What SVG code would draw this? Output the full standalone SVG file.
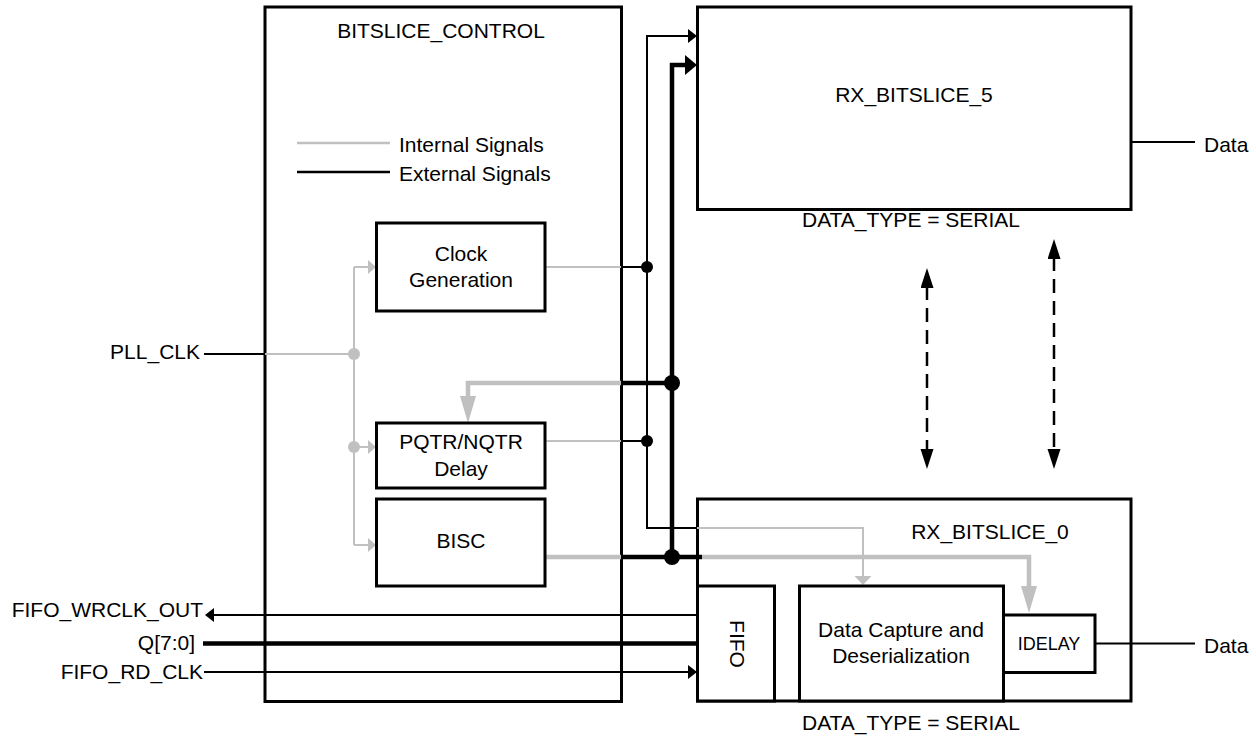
<svg xmlns="http://www.w3.org/2000/svg" width="1256" height="738" viewBox="0 0 1256 738">
<style>
text{font-family:"Liberation Sans",Arial,Helvetica,sans-serif;font-size:21px;fill:#000}
.mid{text-anchor:middle}
.end{text-anchor:end}
.box{fill:#fff;stroke:#000;stroke-width:3}
.frame{fill:none;stroke:#000;stroke-width:3}
.bk{fill:none;stroke:#000;stroke-width:2;stroke-linejoin:miter}
.bkT{fill:none;stroke:#000;stroke-width:4.5;stroke-linejoin:miter}
.gy{fill:none;stroke:#c0c0c0;stroke-width:2;stroke-linejoin:miter}
.gyT{fill:none;stroke:#c0c0c0;stroke-width:4.5;stroke-linejoin:miter}
.dash{fill:none;stroke:#000;stroke-width:2.5;stroke-dasharray:14 8}
.dotB{fill:#000}
.dotG{fill:#c0c0c0}
</style>
<defs>
<marker id="aBs" markerUnits="userSpaceOnUse" markerWidth="10" markerHeight="15" refX="2" refY="7" orient="auto"><path d="M0,0 L9,7 L0,14 z" fill="#000"/></marker>
<marker id="aBb" markerUnits="userSpaceOnUse" markerWidth="13" markerHeight="21" refX="2" refY="10" orient="auto"><path d="M0,0 L12,10 L0,20 z" fill="#000"/></marker>
<marker id="aGs" markerUnits="userSpaceOnUse" markerWidth="9" markerHeight="15" refX="2" refY="7" orient="auto"><path d="M0,0 L8,7 L0,14 z" fill="#c0c0c0"/></marker>
<marker id="aGb" markerUnits="userSpaceOnUse" markerWidth="28" markerHeight="17" refX="2" refY="8" orient="auto"><path d="M0,0 L27,8 L0,16 z" fill="#c0c0c0"/></marker>
<marker id="aGf" markerUnits="userSpaceOnUse" markerWidth="10" markerHeight="18" refX="2" refY="8.5" orient="auto"><path d="M0,0 L9,8.5 L0,17 z" fill="#c0c0c0"/></marker>
<marker id="aD" markerUnits="userSpaceOnUse" markerWidth="21" markerHeight="14" refX="2" refY="6.5" orient="auto-start-reverse"><path d="M0,0 L20,6.5 L0,13 z" fill="#000"/></marker>
</defs>
<rect width="1256" height="738" fill="#fff"/>

<g id="bitslice_control">
<rect class="frame" x="265" y="7" width="356.5" height="694.5"/>
<text class="mid" x="441" y="38">BITSLICE_CONTROL</text>
</g>
<g id="legend">
<path d="M297,143 H390" stroke="#c0c0c0" stroke-width="2.5"/>
<path d="M297,172 H390" stroke="#000" stroke-width="2.5"/>
<text x="399" y="152">Internal Signals</text>
<text x="399" y="181">External Signals</text>
</g>
<g id="rx_bitslice_5">
<rect class="frame" x="697.5" y="7" width="433.5" height="202.5"/>
<text class="mid" x="914" y="102">RX_BITSLICE_5</text>
<text class="mid" x="911" y="227">DATA_TYPE = SERIAL</text>
</g>
<g id="rx_bitslice_0">
<rect class="frame" x="697.5" y="499" width="433.5" height="202"/>
<text class="mid" x="990" y="539">RX_BITSLICE_0</text>
<text class="mid" x="911" y="730">DATA_TYPE = SERIAL</text>
</g>

<g id="connectors">
<!-- PLL_CLK -->
<path class="bk" d="M204,354 H265"/>
<path class="gy" d="M265,354 H354"/>
<path class="gy" d="M354,267 V545"/>
<path class="gy" d="M354,267 H370" marker-end="url(#aGs)"/>
<path class="gy" d="M354,447 H370" marker-end="url(#aGs)"/>
<path class="gy" d="M354,545 H370" marker-end="url(#aGs)"/>
<!-- Clock gen out -->
<path class="gy" d="M545,267 H621"/>
<path class="bk" d="M621,267 H647"/>
<!-- PQTR out -->
<path class="gy" d="M545,441 H621"/>
<path class="bk" d="M621,441 H647"/>
<!-- thin clock bus -->
<path class="bk" d="M697,528 H647 V36 H690" marker-end="url(#aBs)"/>
<path class="gy" d="M697,528 H863 V578" marker-end="url(#aGf)"/>
<!-- thick bus -->
<path class="bkT" d="M672,557 V65 H687" marker-end="url(#aBb)"/>
<path class="bkT" d="M621,383 H672"/>
<path class="gyT" d="M621,383 H468 V398" marker-end="url(#aGb)"/>
<!-- BISC out -->
<path class="gyT" d="M545,557 H621"/>
<path class="bkT" d="M621,557 H702"/>
<path class="gyT" d="M702,557 H1029 V588" marker-end="url(#aGb)"/>
<!-- FIFO IO -->
<path class="bk" d="M697,615 H212" marker-end="url(#aBs)"/>
<path class="bkT" d="M203,643.5 H697"/>
<path class="bk" d="M204,672 H690" marker-end="url(#aBs)"/>
<!-- Data -->
<path class="bk" d="M1131,142 H1195"/>
<path class="bk" d="M1095,643.5 H1195"/>
<!-- dashed bidirectional -->
<path class="dash" d="M927,286 V451" marker-start="url(#aD)" marker-end="url(#aD)"/>
<path class="dash" d="M1054,257 V451" marker-start="url(#aD)" marker-end="url(#aD)"/>
<!-- junction dots -->
<circle class="dotG" cx="354" cy="354" r="6"/>
<circle class="dotG" cx="354" cy="447" r="6"/>
<circle class="dotB" cx="647" cy="267" r="6"/>
<circle class="dotB" cx="647" cy="441" r="6"/>
<circle class="dotB" cx="672" cy="383" r="8"/>
<circle class="dotB" cx="672" cy="557" r="8"/>
</g>

<g id="clock_generation">
<rect class="box" x="376.5" y="223" width="168.5" height="88"/>
<text class="mid" x="461" y="261">Clock</text>
<text class="mid" x="461" y="287">Generation</text>
</g>
<g id="pqtr_nqtr_delay">
<rect class="box" x="376.5" y="423" width="168.5" height="65"/>
<text class="mid" x="461" y="449">PQTR/NQTR</text>
<text class="mid" x="461" y="476">Delay</text>
</g>
<g id="bisc">
<rect class="box" x="376.5" y="499" width="168.5" height="87"/>
<text class="mid" x="461" y="548">BISC</text>
</g>
<g id="fifo">
<rect class="box" x="697.5" y="586" width="77" height="115"/>
<text class="mid" transform="translate(737,644) rotate(90)" x="0" y="7.5">FIFO</text>
</g>
<g id="data_capture">
<rect class="box" x="799.5" y="586" width="204" height="115"/>
<text class="mid" x="901" y="637">Data Capture and</text>
<text class="mid" x="901" y="663">Deserialization</text>
</g>
<g id="idelay">
<rect class="box" x="1003.5" y="615" width="91.5" height="57.5"/>
<text class="mid" x="1049" y="650" style="font-size:18px">IDELAY</text>
</g>

<g id="labels">
<text class="end" x="200" y="359">PLL_CLK</text>
<text class="end" x="203" y="617">FIFO_WRCLK_OUT</text>
<text class="end" x="195" y="650">Q[7:0]</text>
<text class="end" x="203" y="679">FIFO_RD_CLK</text>
<text x="1204" y="152">Data</text>
<text x="1204" y="653">Data</text>
</g>
</svg>
